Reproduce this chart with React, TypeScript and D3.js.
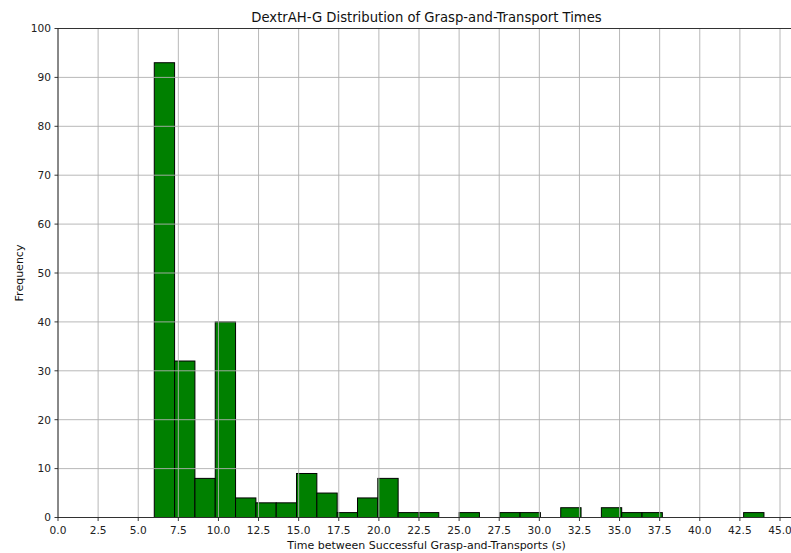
import React from "react";
import * as d3 from "d3";

const binMin = 6.0;
const binMax = 44.0;
const binCounts = [93, 32, 8, 40, 4, 3, 3, 9, 5, 1, 4, 8, 1, 1, 0, 1, 0, 1, 1, 0, 2, 0, 2, 1, 1, 0, 0, 0, 0, 1];
const xTicks = [0, 2.5, 5, 7.5, 10, 12.5, 15, 17.5, 20, 22.5, 25, 27.5, 30, 32.5, 35, 37.5, 40, 42.5, 45];
const yTicks = [0, 10, 20, 30, 40, 50, 60, 70, 80, 90, 100];
const title = "DextrAH-G Distribution of Grasp-and-Transport Times";
const xLabel = "Time between Successful Grasp-and-Transports (s)";
const yLabel = "Frequency";

const W = 791;
const H = 553;

export default function App() {
  const x = d3.scaleLinear().domain([0, 45]).range([58, 780]);
  const y = d3.scaleLinear().domain([0, 100]).range([517.5, 28.5]);
  const nb = binCounts.length;
  const bw = (binMax - binMin) / nb;
  const bins = binCounts.map((c, i) => ({ x0: binMin + i * bw, x1: binMin + (i + 1) * bw, c }));
  const left = x(0);
  const right = W + 5;
  const top = y(100);
  const bottom = y(0);
  const font = "DejaVu Sans, sans-serif";
  return (
    <svg width={W} height={H} style={{ position: "absolute", left: 0, top: 0 }} fontFamily={font}>
      <rect x={0} y={0} width={W} height={H} fill="#fff" />
      {bins.filter(b => b.c > 0).map((b, i) => (
        <rect key={i} x={x(b.x0)} y={y(b.c)} width={x(b.x1) - x(b.x0)} height={y(0) - y(b.c)}
          fill="#008000" stroke="#000" strokeWidth={1} />
      ))}
      {xTicks.map(t => (
        <line key={"gx" + t} x1={x(t)} x2={x(t)} y1={top} y2={bottom} stroke="#b0b0b0" strokeWidth={0.9} />
      ))}
      {yTicks.map(t => (
        <line key={"gy" + t} x1={left} x2={right} y1={y(t)} y2={y(t)} stroke="#b0b0b0" strokeWidth={0.9} />
      ))}
      <line x1={left} x2={left} y1={top} y2={bottom} stroke="#222" strokeWidth={0.9} />
      <line x1={left} x2={right} y1={top} y2={top} stroke="#222" strokeWidth={0.9} />
      <line x1={left} x2={right} y1={bottom} y2={bottom} stroke="#222" strokeWidth={0.9} />
      {xTicks.map(t => (
        <g key={"tx" + t}>
          <line x1={x(t)} x2={x(t)} y1={bottom} y2={bottom + 3.5} stroke="#222" strokeWidth={0.9} />
          <text x={x(t)} y={bottom + 16.5} textAnchor="middle" fontSize={10.6} fill="#222">{t.toFixed(1)}</text>
        </g>
      ))}
      {yTicks.map(t => (
        <g key={"ty" + t}>
          <line x1={left - 3.5} x2={left} y1={y(t)} y2={y(t)} stroke="#222" strokeWidth={0.9} />
          <text x={left - 7} y={y(t) + 3.8} textAnchor="end" fontSize={10.6} fill="#222">{t}</text>
        </g>
      ))}
      <text x={426.5} y={22} textAnchor="middle" fontSize={13.2} fill="#111">{title}</text>
      <text x={426.5} y={549} textAnchor="middle" fontSize={11} fill="#111">{xLabel}</text>
      <text transform={`translate(23,${(top + bottom) / 2}) rotate(-90)`} textAnchor="middle" fontSize={11} fill="#111">{yLabel}</text>
    </svg>
  );
}
